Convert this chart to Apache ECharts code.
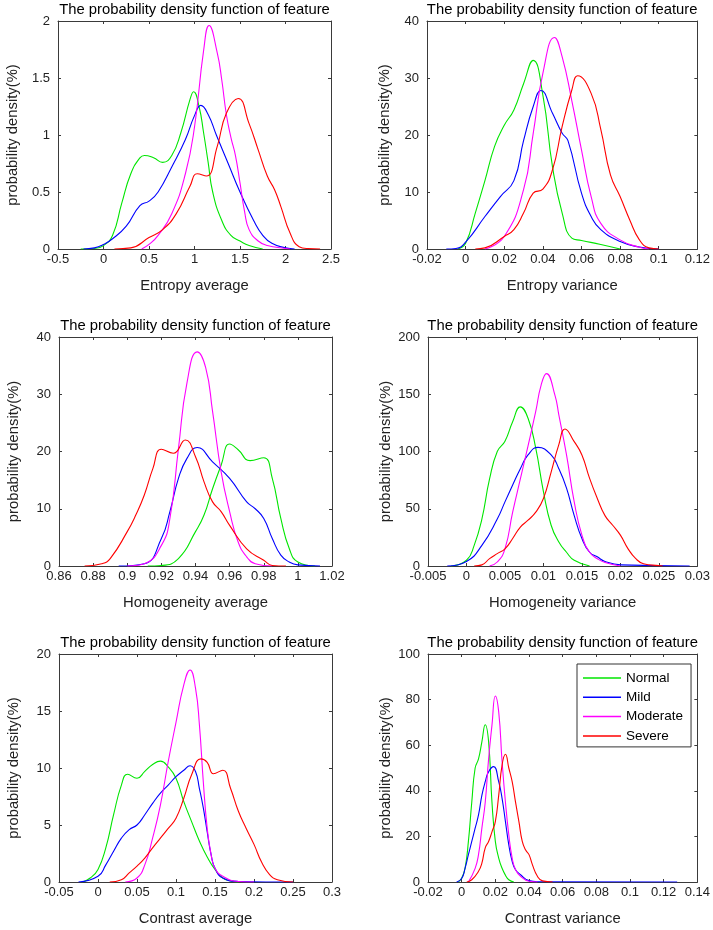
<!DOCTYPE html>
<html><head><meta charset="utf-8">
<script src="https://cdn.jsdelivr.net/npm/echarts@6/dist/echarts.min.js"></script>
<style>html,body{margin:0;padding:0;background:#fff}#c{width:713px;height:930px}</style>
</head><body><div id="c"></div>
<script>
// ---------- labels ----------
const seriesNames = ['Normal', 'Mild', 'Moderate', 'Severe'];
const seriesColors = ['#00e600', '#0000ff', '#ff00ff', '#ff0000'];
const chartTitle = 'The probability density function of feature';
const yAxisName = 'probability density(%)';
const featureNames = ['Entropy average', 'Entropy variance', 'Homogeneity average', 'Homogeneity variance', 'Contrast average', 'Contrast variance'];

// ---------- tick labels ----------
const entAvgXTicks = [-0.5, 0, 0.5, 1, 1.5, 2, 2.5];
const entAvgYTicks = [0, 0.5, 1, 1.5, 2];
const entVarXTicks = [-0.02, 0, 0.02, 0.04, 0.06, 0.08, 0.1, 0.12];
const entVarYTicks = [0, 10, 20, 30, 40];
const homAvgXTicks = [0.86, 0.88, 0.9, 0.92, 0.94, 0.96, 0.98, 1, 1.02];
const homAvgYTicks = [0, 10, 20, 30, 40];
const homVarXTicks = [-0.005, 0, 0.005, 0.01, 0.015, 0.02, 0.025, 0.03];
const homVarYTicks = [0, 50, 100, 150, 200];
const conAvgXTicks = [-0.05, 0, 0.05, 0.1, 0.15, 0.2, 0.25, 0.3];
const conAvgYTicks = [0, 5, 10, 15, 20];
const conVarXTicks = [-0.02, 0, 0.02, 0.04, 0.06, 0.08, 0.1, 0.12, 0.14];
const conVarYTicks = [0, 20, 40, 60, 80, 100];

// ---------- Entropy average ----------
const entAvgNormalX = [-0.25, -0.1, 0, 0.1, 0.2, 0.3, 0.4, 0.45, 0.55, 0.65, 0.75, 0.85, 0.95, 0.99, 1.05, 1.1, 1.15, 1.2, 1.3, 1.4, 1.5, 1.6, 1.75];
const entAvgNormalY = [0, 0.005, 0.03, 0.12, 0.4, 0.66, 0.8, 0.82, 0.8, 0.76, 0.82, 1.02, 1.31, 1.38, 1.25, 1.02, 0.76, 0.5, 0.25, 0.12, 0.07, 0.03, 0];
const entAvgMildX = [-0.22, -0.1, 0, 0.1, 0.25, 0.4, 0.5, 0.6, 0.75, 0.9, 1.0, 1.07, 1.15, 1.24, 1.37, 1.5, 1.65, 1.75, 1.85, 2.0, 2.1];
const entAvgMildY = [0, 0.01, 0.04, 0.09, 0.2, 0.38, 0.42, 0.5, 0.72, 0.96, 1.17, 1.26, 1.18, 1.0, 0.75, 0.5, 0.25, 0.12, 0.05, 0.01, 0];
const entAvgModX = [0.42, 0.5, 0.6, 0.75, 0.9, 1.0, 1.1, 1.16, 1.25, 1.3, 1.35, 1.4, 1.45, 1.5, 1.55, 1.6, 1.7, 1.8, 2.0, 2.05];
const entAvgModY = [0, 0.04, 0.12, 0.31, 0.66, 1.07, 1.74, 1.96, 1.72, 1.48, 1.18, 0.98, 0.82, 0.58, 0.33, 0.17, 0.07, 0.03, 0.005, 0];
const entAvgSevX = [0.12, 0.3, 0.5, 0.65, 0.8, 0.95, 1.03, 1.13, 1.25, 1.35, 1.48, 1.6, 1.7, 1.8, 1.88, 1.95, 2.05, 2.15, 2.25, 2.38];
const entAvgSevY = [0, 0.01, 0.1, 0.17, 0.31, 0.55, 0.66, 0.64, 0.9, 1.19, 1.32, 1.1, 0.87, 0.64, 0.52, 0.37, 0.14, 0.02, 0.003, 0];

// ---------- Entropy variance ----------
const entVarNormalX = [-0.004, 0, 0.005, 0.01, 0.015, 0.02, 0.025, 0.03, 0.035, 0.04, 0.045, 0.05, 0.055, 0.06, 0.07, 0.08];
const entVarNormalY = [0, 1, 6.3, 12, 18, 21.7, 24.4, 29, 33.1, 27, 14.4, 6.3, 1.9, 1.5, 0.8, 0];
const entVarMildX = [-0.01, -0.005, 0, 0.01, 0.018, 0.025, 0.03, 0.035, 0.039, 0.045, 0.05, 0.053, 0.06, 0.065, 0.07, 0.08, 0.09, 0.1];
const entVarMildY = [0, 0.1, 1.2, 5.7, 9.2, 12, 19, 25, 27.8, 23.8, 20.3, 19, 9.8, 5.7, 3.4, 1.3, 0.35, 0];
const entVarModX = [0.01, 0.02, 0.03, 0.035, 0.04, 0.046, 0.05, 0.055, 0.06, 0.065, 0.07, 0.08, 0.09, 0.095];
const entVarModY = [0, 2.2, 10.4, 20.3, 30.8, 37.1, 33.7, 26, 17.4, 9.2, 4.5, 1.6, 0.3, 0];
const entVarSevX = [0.005, 0.01, 0.02, 0.025, 0.03, 0.035, 0.04, 0.045, 0.05, 0.055, 0.058, 0.065, 0.07, 0.075, 0.08, 0.085, 0.09, 0.095, 0.1];
const entVarSevY = [0, 0.2, 2.2, 3.4, 6.3, 9.8, 10.5, 13.9, 21.5, 27.9, 30.4, 27.3, 21, 13, 9.2, 5.1, 1.6, 0.2, 0];

// ---------- Homogeneity average ----------
const homAvgNormalX = [0.912, 0.92, 0.93, 0.94, 0.945, 0.95, 0.955, 0.96, 0.965, 0.972, 0.98, 0.985, 0.99, 0.995, 1.0, 1.01];
const homAvgNormalY = [0, 0.1, 1.3, 6, 8.9, 13.5, 17.6, 21.3, 20.3, 18.4, 18.9, 15.3, 8.3, 3, 0.7, 0];
const homAvgMildX = [0.895, 0.91, 0.92, 0.925, 0.93, 0.935, 0.941, 0.95, 0.96, 0.97, 0.975, 0.98, 0.985, 0.99, 0.995, 1.0, 1.013];
const homAvgMildY = [0, 0.4, 4.8, 9.5, 15.3, 18.8, 20.7, 18.2, 15.3, 11.2, 10, 8.3, 4.8, 1.9, 0.7, 0.2, 0];
const homAvgModX = [0.9, 0.91, 0.92, 0.925, 0.93, 0.935, 0.941, 0.946, 0.95, 0.955, 0.96, 0.965, 0.97, 0.975, 0.985];
const homAvgModY = [0, 0.4, 3.6, 8.3, 20.5, 32, 37.4, 34.6, 27, 16.5, 9.5, 4.2, 1.6, 0.4, 0];
const homAvgSevX = [0.875, 0.885, 0.89, 0.9, 0.905, 0.91, 0.915, 0.92, 0.927, 0.934, 0.94, 0.945, 0.95, 0.955, 0.96, 0.97, 0.98, 0.985, 0.993];
const homAvgSevY = [0, 0.4, 1.3, 6, 8.9, 12.4, 17, 20.4, 19.7, 22, 19.1, 14.7, 11.2, 9.5, 7.1, 3, 1, 0.1, 0];

// ---------- Homogeneity variance ----------
const homVarNormalX = [-0.002, 0, 0.001, 0.002, 0.003, 0.004, 0.005, 0.006, 0.007, 0.008, 0.009, 0.01, 0.011, 0.012, 0.013, 0.014, 0.016];
const homVarNormalY = [0, 5, 18, 41, 76, 100, 109, 126, 139, 129, 103, 65, 35.6, 21, 12, 5, 0];
const homVarMildX = [-0.0025, 0, 0.002, 0.004, 0.005, 0.006, 0.007, 0.008, 0.0093, 0.011, 0.012, 0.013, 0.014, 0.015, 0.016, 0.017, 0.018, 0.02, 0.029];
const homVarMildY = [0, 4, 18, 41, 56, 70.7, 85, 97, 103.6, 97, 85, 68, 44, 24, 12, 8, 4, 1, 0];
const homVarModX = [0.003, 0.004, 0.005, 0.006, 0.007, 0.008, 0.009, 0.0097, 0.0104, 0.0115, 0.012, 0.013, 0.014, 0.015, 0.016, 0.017, 0.018, 0.02];
const homVarModY = [0, 3.5, 15, 47, 76, 105, 135, 158, 168, 149, 132, 97, 56, 27, 12, 6.4, 3, 0];
const homVarSevX = [0.001, 0.002, 0.003, 0.004, 0.005, 0.006, 0.007, 0.008, 0.009, 0.01, 0.011, 0.012, 0.0128, 0.014, 0.015, 0.016, 0.017, 0.018, 0.019, 0.02, 0.021, 0.022, 0.023, 0.025, 0.0255];
const homVarSevY = [0, 1, 6.4, 10.8, 15, 24, 34, 40, 47, 59, 82, 106, 119.7, 108.6, 97, 76.5, 59, 44, 35.6, 27, 15, 6.4, 2, 0.3, 0];

// ---------- Contrast average ----------
const conAvgNormalX = [-0.02, -0.01, 0, 0.01, 0.02, 0.03, 0.038, 0.05, 0.06, 0.07, 0.08, 0.09, 0.1, 0.11, 0.12, 0.13, 0.14, 0.15, 0.16, 0.17, 0.18];
const conAvgNormalY = [0, 0.35, 1.1, 3, 5.9, 8.5, 9.45, 9.1, 9.7, 10.3, 10.6, 10.1, 9.1, 7.05, 5.3, 3.6, 2.2, 1.1, 0.35, 0.1, 0];
const conAvgMildX = [-0.025, 0, 0.01, 0.02, 0.03, 0.04, 0.05, 0.06, 0.07, 0.08, 0.09, 0.1, 0.11, 0.118, 0.125, 0.13, 0.135, 0.14, 0.145, 0.15, 0.16, 0.18, 0.25];
const conAvgMildY = [0, 0.5, 1.5, 2.7, 3.85, 4.6, 5, 5.9, 6.9, 7.8, 8.5, 9.25, 9.8, 10.2, 9.7, 8.2, 6.5, 4.4, 2.4, 1.2, 0.35, 0.05, 0];
const conAvgModX = [0.035, 0.05, 0.06, 0.07, 0.08, 0.09, 0.1, 0.11, 0.118, 0.125, 0.13, 0.135, 0.14, 0.145, 0.15, 0.16, 0.18, 0.2];
const conAvgModY = [0, 0.35, 1.5, 3.85, 6.75, 10.55, 14, 17.3, 18.6, 17, 13.8, 8.8, 4.7, 2.4, 1.2, 0.5, 0.05, 0];
const conAvgSevX = [0.015, 0.03, 0.04, 0.05, 0.06, 0.07, 0.08, 0.09, 0.1, 0.11, 0.12, 0.132, 0.14, 0.148, 0.16, 0.17, 0.18, 0.19, 0.2, 0.21, 0.22, 0.23, 0.25];
const conAvgSevY = [0, 0.2, 0.8, 1.4, 2.1, 3, 3.85, 4.7, 5.6, 7.35, 9.4, 10.8, 10.5, 9.5, 9.8, 8.2, 6.2, 4.7, 3.3, 1.7, 0.65, 0.2, 0];

// ---------- Contrast variance ----------
const conVarNormalX = [-0.002, 0, 0.002, 0.004, 0.006, 0.008, 0.01, 0.012, 0.014, 0.016, 0.018, 0.02, 0.022, 0.024, 0.026, 0.028, 0.031];
const conVarNormalY = [0, 1.7, 6, 17.8, 35, 50, 54, 61.5, 69, 61.5, 35, 17.8, 10.5, 6, 3, 1, 0];
const conVarMildX = [-0.003, 0, 0.002, 0.004, 0.006, 0.008, 0.01, 0.012, 0.014, 0.016, 0.019, 0.022, 0.024, 0.026, 0.028, 0.03, 0.032, 0.035, 0.04, 0.045, 0.128];
const conVarMildY = [0, 1.5, 6, 12, 17.8, 23.6, 29.4, 38, 44, 48.4, 50.6, 44, 36.7, 26.5, 16.3, 9, 5.4, 3.2, 0.6, 0.1, 0];
const conVarModX = [0.004, 0.008, 0.01, 0.012, 0.014, 0.016, 0.018, 0.02, 0.022, 0.024, 0.026, 0.028, 0.03, 0.032, 0.035, 0.04, 0.045];
const conVarModY = [0, 6, 12, 23.6, 35, 54, 68.8, 81.6, 74.6, 52.8, 35, 20.7, 10.5, 5.4, 2.5, 0.3, 0];
const conVarSevX = [0.003, 0.006, 0.01, 0.012, 0.014, 0.016, 0.018, 0.02, 0.022, 0.024, 0.026, 0.028, 0.03, 0.032, 0.034, 0.036, 0.038, 0.04, 0.042, 0.045, 0.048, 0.054];
const conVarSevY = [0, 1, 4.7, 8.3, 15, 17.8, 22, 26.5, 38, 51.3, 56, 50, 44, 35, 26.5, 17.8, 14, 12, 7.6, 2.5, 0.5, 0];

// ---------- assembly ----------
const panelData = [
  { xTicks: entAvgXTicks, yTicks: entAvgYTicks, curves: [[entAvgNormalX, entAvgNormalY], [entAvgMildX, entAvgMildY], [entAvgModX, entAvgModY], [entAvgSevX, entAvgSevY]] },
  { xTicks: entVarXTicks, yTicks: entVarYTicks, curves: [[entVarNormalX, entVarNormalY], [entVarMildX, entVarMildY], [entVarModX, entVarModY], [entVarSevX, entVarSevY]] },
  { xTicks: homAvgXTicks, yTicks: homAvgYTicks, curves: [[homAvgNormalX, homAvgNormalY], [homAvgMildX, homAvgMildY], [homAvgModX, homAvgModY], [homAvgSevX, homAvgSevY]] },
  { xTicks: homVarXTicks, yTicks: homVarYTicks, curves: [[homVarNormalX, homVarNormalY], [homVarMildX, homVarMildY], [homVarModX, homVarModY], [homVarSevX, homVarSevY]] },
  { xTicks: conAvgXTicks, yTicks: conAvgYTicks, curves: [[conAvgNormalX, conAvgNormalY], [conAvgMildX, conAvgMildY], [conAvgModX, conAvgModY], [conAvgSevX, conAvgSevY]] },
  { xTicks: conVarXTicks, yTicks: conVarYTicks, curves: [[conVarNormalX, conVarNormalY], [conVarMildX, conVarMildY], [conVarModX, conVarModY], [conVarSevX, conVarSevY]] }
];

// layout (pixel boxes of the six plot areas)
const gridBoxes = [
  { left: 58, top: 21, width: 273, height: 228 },
  { left: 427, top: 21, width: 273, height: 228 },
  { left: 59, top: 337, width: 273, height: 229 },
  { left: 428, top: 337, width: 270, height: 229 },
  { left: 59, top: 654, width: 273, height: 228 },
  { left: 428, top: 654, width: 274, height: 228 }
];

const FONT = "'Liberation Sans', Arial, Helvetica, sans-serif";
const AXIS_COLOR = '#3a3a3a';
const TEXT_COLOR = '#222';
const fmt = v => String(Math.round(v * 1e6) / 1e6);

const grids = [], xAxes = [], yAxes = [], series = [];
panelData.forEach((p, i) => {
  grids.push(Object.assign({ containLabel: false }, gridBoxes[i]));
  const xMin = p.xTicks[0], xMax = p.xTicks[p.xTicks.length - 1], xInt = p.xTicks[1] - p.xTicks[0];
  const yMin = p.yTicks[0], yMax = p.yTicks[p.yTicks.length - 1], yInt = p.yTicks[1] - p.yTicks[0];
  const lineStyle = { color: AXIS_COLOR, width: 1 };
  const tick = { show: true, inside: true, length: 3, lineStyle: { color: AXIS_COLOR, width: 1 } };
  xAxes.push({
    type: 'value', gridIndex: i, position: 'bottom', min: xMin, max: xMax, interval: xInt,
    axisLine: { show: true, onZero: false, lineStyle }, axisTick: tick, splitLine: { show: false },
    axisLabel: { show: true, fontSize: 13, color: TEXT_COLOR, fontFamily: FONT, margin: 4, formatter: fmt, showMinLabel: true, showMaxLabel: true, hideOverlap: false },
    name: featureNames[i], nameLocation: 'middle', nameGap: 29,
    nameTextStyle: { fontSize: 14.8, color: TEXT_COLOR, fontFamily: FONT }
  });
  xAxes.push({
    type: 'value', gridIndex: i, position: 'top', min: xMin, max: xMax, interval: xInt,
    axisLine: { show: true, onZero: false, lineStyle }, axisTick: tick, splitLine: { show: false },
    axisLabel: { show: false },
    name: chartTitle, nameLocation: 'middle', nameGap: 4,
    nameTextStyle: { fontSize: 14.8, color: '#000', fontFamily: FONT, verticalAlign: 'bottom' }
  });
  yAxes.push({
    type: 'value', gridIndex: i, position: 'left', min: yMin, max: yMax, interval: yInt,
    axisLine: { show: true, onZero: false, lineStyle }, axisTick: tick, splitLine: { show: false },
    axisLabel: { show: true, fontSize: 13, color: TEXT_COLOR, fontFamily: FONT, margin: 8, formatter: fmt },
    name: yAxisName, nameLocation: 'middle', nameGap: (i % 2 === 0) ? 38 : 35, nameRotate: 90,
    nameTextStyle: { fontSize: 14.8, color: TEXT_COLOR, fontFamily: FONT }
  });
  yAxes.push({
    type: 'value', gridIndex: i, position: 'right', min: yMin, max: yMax, interval: yInt,
    axisLine: { show: true, onZero: false, lineStyle }, axisTick: tick, splitLine: { show: false },
    axisLabel: { show: false }
  });
  p.curves.forEach((c, k) => {
    series.push({
      type: 'line', name: seriesNames[k], xAxisIndex: 2 * i, yAxisIndex: 2 * i,
      data: c[0].map((x, j) => [x, c[1][j]]),
      smooth: 0.5, symbol: 'none', showSymbol: false,
      lineStyle: { color: seriesColors[k], width: 1.1 }, itemStyle: { color: seriesColors[k] },
      silent: true, animation: false, z: 2 + k
    });
  });
});

const chart = echarts.init(document.getElementById('c'), null, { renderer: 'canvas' });
chart.setOption({
  backgroundColor: '#fff',
  animation: false,
  grid: grids, xAxis: xAxes, yAxis: yAxes, series,
  legend: {
    data: seriesNames, orient: 'vertical', left: 577, top: 664,
    padding: [6, 8, 3, 6], borderColor: '#333', borderWidth: 1, backgroundColor: '#fff',
    itemGap: 3.3, itemWidth: 38, itemHeight: 1.5, itemTextGap: 4, icon: 'rect',
    textStyle: { fontSize: 13.5, color: '#000', fontFamily: FONT, lineHeight: 16 },
    selectedMode: false
  }
});
</script>
</body></html>
